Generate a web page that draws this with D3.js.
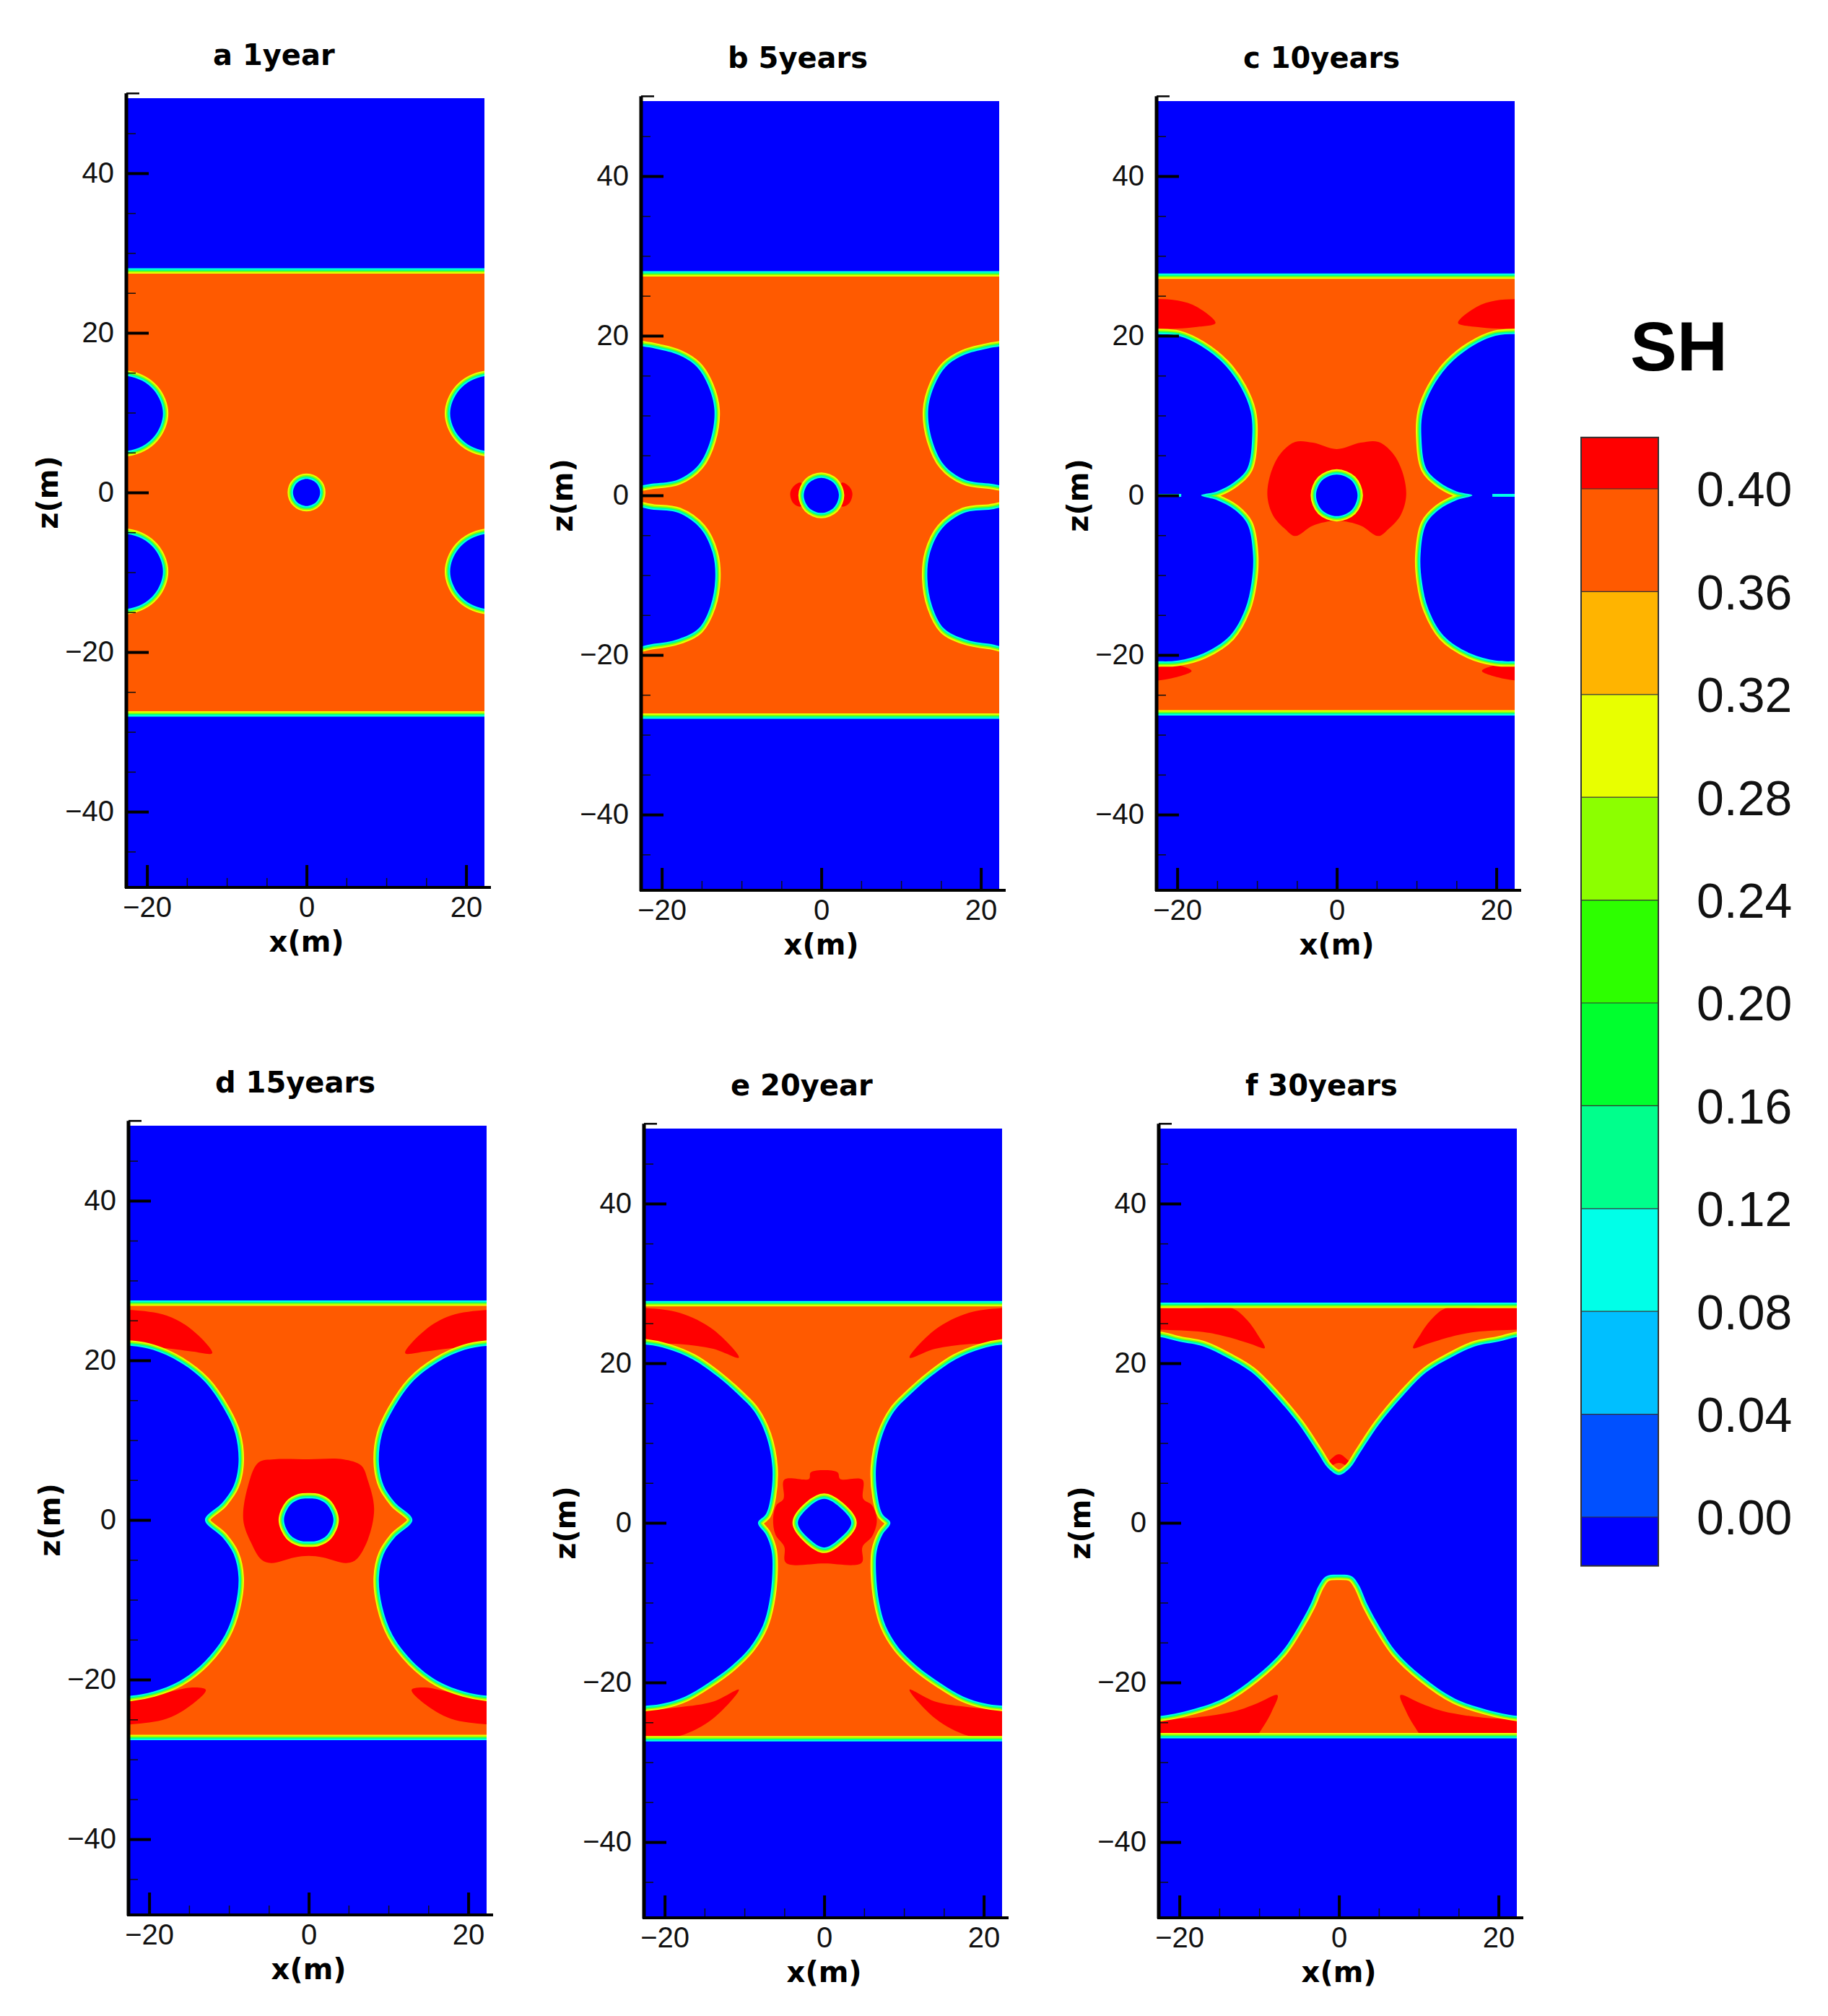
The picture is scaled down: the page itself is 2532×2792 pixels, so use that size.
<!DOCTYPE html>
<html>
<head>
<meta charset="utf-8">
<style>
  body { margin: 0; background: #fff; }
  .tick text { font-family: "Liberation Sans", Arial, sans-serif; font-size: 40px; fill: #111; }
</style>
</head>
<body>
<svg id="fig" width="2532" height="2792"></svg>

<script src="https://d3js.org/d3.v7.min.js"></script>
<script>

    // ---- data (x, z in metres) ----
    const panelTitles = ["a 1year", "b 5years", "c 10years", "d 15years", "e 20year", "f 30years"]
    const xTicks = [-20, 0, 20]
    const zTicks = [-40, -20, 0, 20, 40]
    const minorTicks = [-45, -35, -30, -25, -15, -10, -5, 5, 10, 15, 25, 30, 35, 45]
    const xMinor = [-15, -10, -5, 5, 10, 15]

    const legendLevels = [0.00, 0.04, 0.08, 0.12, 0.16, 0.20, 0.24, 0.28, 0.32, 0.36, 0.40]
    const legendColors = ["#0000ff", "#0050ff", "#00bfff", "#00ffe8", "#00ff8c", "#00ff2e",
                          "#2dff00", "#8cff00", "#e8ff00", "#ffb400", "#ff5a00", "#ff0000"]
    const legendEnds = [-0.019, 0.42]

    // top / bottom edge of the hydrate layer
    const bandTop = [28.1, 28.1, 27.8, 27.5, 27.8, 27.6]
    const bandBottom = [-28.1, -28.0, -27.6, -27.6, -27.4, -27.0]

    // dissociated zones (SH ~ 0) at the left wells, mirrored to the right wells
    const blueSide = [
        [
            [[-25,14.6],[-22.5,14.6],[-20.6,14.0],[-19.2,12.9],[-18.3,11.4],[-18.0,9.9],[-18.3,8.4],[-19.2,6.9],[-20.6,5.8],[-22.5,5.2],[-25,5.2]],
            [[-25,-5.2],[-22.5,-5.2],[-20.6,-5.8],[-19.2,-6.9],[-18.3,-8.4],[-18.0,-9.9],[-18.3,-11.4],[-19.2,-12.9],[-20.6,-14.0],[-22.5,-14.6],[-25,-14.6]]
        ],
        [
            [[-25,18.6],[-22.0,18.6],[-20.4,18.3],[-17.9,17.6],[-15.7,16.2],[-14.2,13.8],[-13.4,10.7],[-13.9,6.9],[-15.4,3.8],[-17.9,2.0],[-21,1.5],[-25,1.5]],
            [[-25,-1.7],[-21,-1.8],[-17.9,-2.2],[-15.1,-4.2],[-13.6,-7.3],[-13.3,-10.5],[-13.9,-13.9],[-15.4,-16.7],[-17.9,-18.0],[-21,-18.6],[-25,-18.8]]
        ],
        [
            [[-25,20.2],[-22.5,20.2],[-19.9,20.0],[-17.0,18.7],[-14.1,16.4],[-12.0,13.5],[-10.8,10.5],[-10.6,7.5],[-11.2,3.4],[-12.8,1.7],[-15.0,0.5],[-17.0,0],
             [-15.0,-0.6],[-12.8,-1.8],[-11.2,-3.6],[-10.5,-7.5],[-10.7,-11.0],[-11.5,-14.3],[-13.4,-17.6],[-16.7,-19.8],[-19.9,-20.7],[-22.5,-20.8],[-25,-20.8]]
        ],
        [
            [[-25,21.8],[-22.2,21.8],[-19.5,21.3],[-16.2,19.8],[-13.0,17.3],[-10.5,13.7],[-9.2,10.8],[-8.8,7.2],[-9.4,4.3],[-10.8,2.2],[-13.0,0],
             [-10.8,-2.2],[-9.4,-4.3],[-8.8,-7.2],[-9.2,-10.8],[-10.5,-14.4],[-13.0,-17.7],[-16.2,-20.2],[-19.5,-21.5],[-22.2,-22.0],[-25,-22.0]]
        ],
        [
            [[-25,22.3],[-22.1,22.3],[-19.7,21.8],[-16.5,20.5],[-13.2,18.2],[-10.6,15.9],[-8.8,14.0],[-7.3,11.0],[-6.5,7.0],[-6.7,3.3],[-7.3,1.1],[-8.3,0],
             [-7.3,-1.5],[-6.6,-3.5],[-6.5,-6.3],[-6.9,-10.0],[-7.7,-12.9],[-9.3,-15.6],[-11.7,-18.0],[-14.6,-20.1],[-17.5,-21.8],[-20,-22.6],[-22.1,-22.9],[-25,-22.9]]
        ],
        []
    ]

    // dissociated zones round the central well
    const blueMiddle = [
        [[[0,1.7],[1.2,1.2],[1.7,0],[1.2,-1.2],[0,-1.7],[-1.2,-1.2],[-1.7,0],[-1.2,1.2]]],
        [[[0,2.2],[1.55,1.55],[2.2,0],[1.55,-1.55],[0,-2.2],[-1.55,-1.55],[-2.2,0],[-1.55,1.55]]],
        [[[0,2.6],[1.85,1.85],[2.6,0],[1.85,-1.85],[0,-2.6],[-1.85,-1.85],[-2.6,0],[-1.85,1.85]]],
        [[[-3.1,0],[-2.3,1.9],[-1.1,2.6],[0,2.7],[1.1,2.6],[2.3,1.9],[3.1,0],[2.3,-1.9],[1.1,-2.6],[0,-2.7],[-1.1,-2.6],[-2.3,-1.9]]],
        [[[-3.3,0],[-1.9,2.0],[0,3.0],[1.9,2.0],[3.4,0],[1.9,-2.0],[0,-3.1],[-1.9,-2.0]]],
        [[[-25,23.3],[-22.5,23.3],[-20,22.7],[-17,22.1],[-14,20.7],[-11,18.9],[-8,15.9],[-5,12.3],[-2.6,8.7],[-1.4,6.9],[0,6.0],
          [1.4,6.9],[2.6,8.7],[5,12.3],[8,15.9],[11,18.9],[14,20.7],[17,22.1],[20,22.7],[22.5,23.3],[25,23.3],
          [25,-24.2],[22.5,-24.2],[18.5,-23.4],[14.5,-22.0],[10.5,-19.3],[7.2,-16.2],[5.2,-13.2],[3.6,-10.3],[2.5,-7.8],[1.6,-6.7],[0,-6.5],
          [-1.6,-6.7],[-2.5,-7.8],[-3.6,-10.3],[-5.2,-13.2],[-7.2,-16.2],[-10.5,-19.3],[-14.5,-22.0],[-18.5,-23.4],[-22.5,-24.2],[-25,-24.2]]]
    ]

    // SH > 0.40 zones near the left wells, mirrored to the right
    const redSide = [
        [],
        [[[-3.9,0.2],[-3.5,1.1],[-2.6,1.6],[-2.0,0],[-2.6,-1.4],[-3.5,-1.0]]],
        [
            [[-25,24.6],[-22.5,24.6],[-19.9,24.4],[-17.5,23.6],[-15.2,21.6],[-17.5,21.1],[-20,20.9],[-22.5,20.9],[-25,20.9]],
            [[-25,-21.0],[-22.5,-21.0],[-20.2,-21.2],[-18.2,-22.0],[-20.2,-22.8],[-22.5,-23.2],[-25,-23.2]]
        ],
        [
            [[-25,26.3],[-22.2,26.3],[-17.8,25.6],[-14.6,23.8],[-12.1,20.9],[-14.6,21.1],[-17.8,21.5],[-22.2,21.8],[-25,21.8]],
            [[-25,-22.0],[-22.2,-22.0],[-17.8,-21.6],[-14.6,-21.0],[-12.9,-21.3],[-14.6,-23.1],[-17.8,-24.9],[-22.2,-25.6],[-25,-25.6]]
        ],
        [
            [[-25,26.9],[-22.1,26.9],[-18.1,26.3],[-13.9,24.2],[-10.7,20.7],[-13.9,21.8],[-18.1,22.4],[-22.1,22.4],[-25,22.4]],
            [[-25,-23.4],[-22.1,-23.4],[-18.1,-23.1],[-13.9,-22.4],[-10.7,-20.9],[-13.9,-24.5],[-18.1,-26.7],[-22.1,-27.0],[-25,-27.0]]
        ],
        [
            [[-25,26.9],[-22.5,26.9],[-18,26.9],[-13.4,26.9],[-11.5,25.4],[-10.2,23.6],[-9.3,21.9],[-11.0,22.4],[-14.0,23.3],[-17.0,23.9],[-22.5,24.2],[-25,24.2]],
            [[-25,-24.6],[-22.5,-24.6],[-18,-24.4],[-13,-23.6],[-10.2,-22.6],[-7.7,-21.6],[-8.4,-23.6],[-9.4,-25.4],[-10.5,-26.7],[-15,-26.8],[-22.5,-26.8],[-25,-26.8]]
        ]
    ]

    // SH > 0.40 zones round the central well
    const redMiddle = [
        [],
        [],
        [[[-8.7,0],[-8.2,3],[-7,5.3],[-5.2,6.7],[-3,6.6],[0,5.8],[3,6.6],[5.2,6.7],[7,5.3],[8.2,3],[8.7,0],[8,-2.5],[6.5,-4.2],
          [5.2,-5.1],[3,-3.8],[0,-3.2],[-3,-3.8],[-5.2,-5.1],[-6.5,-4.2],[-8,-2.5]]],
        [[[-6.3,7.2],[-4.3,7.6],[0,7.6],[4.3,7.6],[6.6,6.8],[7.4,5.0],[8.2,1.4],[7.4,-2.5],[5.9,-5.0],[4.7,-5.4],[1.8,-4.7],[0,-4.5],
          [-1.8,-4.7],[-4.7,-5.4],[-5.9,-5.0],[-7.2,-2.9],[-8.2,0],[-7.6,4.3]]],
        [[[-5.0,5.4],[-1.9,5.5],[-1.7,6.3],[0,6.6],[1.7,6.3],[2.0,5.5],[4.8,5.4],[4.9,3.0],[6.0,2.2],[6.6,0.3],[6.0,-1.7],[4.8,-3.0],
          [4.7,-5.0],[0,-5.1],[-4.8,-5.0],[-5.0,-3.0],[-6.1,-1.5],[-6.4,0.5],[-6.0,2.2],[-5.1,3.0]]],
        [[[-2.3,6.4],[-1.2,7.8],[0,8.6],[1.2,7.8],[2.5,6.4],[1.2,7.0],[0,7.5],[-1.2,7.0]]]
    ]

    // thin seams where two dissociation fronts touch (left side, mirrored)
    const seams = [[], [], [[[-22.6,0],[-19.5,0]]], [], [], []]

    // ---- layout ----
    const svg = d3.select("#fig")
    const W = 495, H = 1092
    const panelLeft = [176, 889, 1603, 179, 893, 1606]
    const panelTop = [136, 140, 140, 1559, 1563, 1563]

    const orange = legendColors[10], red = legendColors[11], blue = legendColors[0]
    const rings = [[15, legendColors[8]], [11, legendColors[7]], [7.5, legendColors[4]], [4, legendColors[3]]]

    let x = d3.scaleLinear().domain([-22.5, 22.3]).range([0, W])
    let z = d3.scaleLinear().domain([-49.4, 49.4]).range([H, 0])

    let smooth = d3.line().x(d => x(d[0])).y(d => z(d[1])).curve(d3.curveCatmullRomClosed.alpha(0.5))
    let straight = d3.line().x(d => x(d[0])).y(d => z(d[1])).curve(d3.curveLinearClosed)
    let open = d3.line().x(d => x(d[0])).y(d => z(d[1]))
    let mirror = p => p.map(d => [-d[0], d[1]])

    panelTitles.forEach((title, i) => {
        let g = svg.append("g").attr("transform", `translate(${panelLeft[i]},${panelTop[i]})`)

        g.append("clipPath").attr("id", "clip" + i)
            .append("rect").attr("width", W).attr("height", H)
        let plot = g.append("g").attr("clip-path", `url(#clip${i})`)

        plot.append("rect").attr("width", W).attr("height", H).attr("fill", orange)

        let reds = redSide[i].flatMap(p => [p, mirror(p)]).concat(redMiddle[i])
        plot.selectAll(null).data(reds).join("path")
            .attr("d", smooth).attr("fill", red)

        let outer = [
            [[-25, bandTop[i]], [25, bandTop[i]], [25, 52], [-25, 52]],
            [[-25, bandBottom[i]], [25, bandBottom[i]], [25, -52], [-25, -52]]
        ]
        let blues = blueSide[i].flatMap(p => [p, mirror(p)]).concat(blueMiddle[i])

        // colour transition round every dissociated zone
        rings.forEach(([w, c]) => {
            plot.selectAll(null).data(outer).join("path")
                .attr("d", straight).attr("fill", "none")
                .attr("stroke", c).attr("stroke-width", w)
            plot.selectAll(null).data(blues).join("path")
                .attr("d", smooth).attr("fill", "none")
                .attr("stroke", c).attr("stroke-width", w).attr("stroke-linejoin", "round")
        })
        plot.selectAll(null).data(outer).join("path").attr("d", straight).attr("fill", blue)
        plot.selectAll(null).data(blues).join("path").attr("d", smooth).attr("fill", blue)

        let seamLines = seams[i].flatMap(p => [p, mirror(p)])
        plot.selectAll(null).data(seamLines).join("path")
            .attr("d", open).attr("fill", "none")
            .attr("stroke", legendColors[3]).attr("stroke-width", 4)

        // axes
        let yAxis = g.append("g").call(d3.axisLeft(z).tickValues(zTicks).tickSize(-30).tickPadding(18).tickSizeOuter(0))
        yAxis.select(".domain").remove()
        yAxis.selectAll(".tick line").attr("stroke", "#000").attr("stroke-width", 4)

        let yMinor = g.append("g").call(d3.axisLeft(z).tickValues(minorTicks).tickSize(-12).tickFormat(""))
        yMinor.select(".domain").remove()
        yMinor.selectAll(".tick line").attr("stroke", "#111").attr("stroke-width", 1.5)

        let xAxis = g.append("g").attr("transform", `translate(0,${H})`)
            .call(d3.axisBottom(x).tickValues(xTicks).tickSize(-30).tickPadding(14).tickSizeOuter(0))
        xAxis.select(".domain").remove()
        xAxis.selectAll(".tick line").attr("stroke", "#000").attr("stroke-width", 4)

        let xMin = g.append("g").attr("transform", `translate(0,${H})`)
            .call(d3.axisBottom(x).tickValues(xMinor).tickSize(-12).tickFormat(""))
        xMin.select(".domain").remove()
        xMin.selectAll(".tick line").attr("stroke", "#111").attr("stroke-width", 1.5)

        g.append("line").attr("x1", -1).attr("x2", -1).attr("y1", z(50)).attr("y2", H + 2)
            .attr("stroke", "#000").attr("stroke-width", 5)
        g.append("line").attr("x1", -1).attr("x2", 17).attr("y1", z(50)).attr("y2", z(50))
            .attr("stroke", "#000").attr("stroke-width", 2.5)
        g.append("line").attr("x1", -3).attr("x2", W + 9).attr("y1", H + 1).attr("y2", H + 1)
            .attr("stroke", "#000").attr("stroke-width", 4)

        g.append("text").attr("x", 119).attr("y", -46)
            .attr("font-family", "DejaVu Sans").attr("font-weight", "bold").attr("font-size", 40)
            .text(title)
        g.append("text").attr("x", x(0)).attr("y", H + 90).attr("text-anchor", "middle")
            .attr("font-family", "DejaVu Sans").attr("font-weight", "bold").attr("font-size", 40)
            .text("x(m)")
        g.append("text").attr("transform", `translate(-96,${z(0)}) rotate(-90)`).attr("text-anchor", "middle")
            .attr("font-family", "DejaVu Sans").attr("font-weight", "bold").attr("font-size", 40)
            .text("z(m)")
    })

    // ---- colour bar ----
    let cy = d3.scaleLinear().domain([0, 0.40]).range([2101, 677])
    let barX = 2190, barW = 107
    let edges = [legendEnds[0]].concat(legendLevels, [legendEnds[1]])
    let bands = legendColors.map((c, k) => ({ lo: edges[k], hi: edges[k + 1], c: c }))

    let bar = svg.append("g")
    bar.selectAll("rect").data(bands).join("rect")
        .attr("x", barX).attr("width", barW)
        .attr("y", d => cy(d.hi)).attr("height", d => cy(d.lo) - cy(d.hi))
        .attr("fill", d => d.c)
    bar.selectAll("line").data(legendLevels).join("line")
        .attr("x1", barX).attr("x2", barX + barW)
        .attr("y1", d => cy(d)).attr("y2", d => cy(d))
        .attr("stroke", "#333").attr("stroke-width", 1.2)
    bar.append("rect").attr("x", barX).attr("width", barW)
        .attr("y", cy(legendEnds[1])).attr("height", cy(legendEnds[0]) - cy(legendEnds[1]))
        .attr("fill", "none").attr("stroke", "#333").attr("stroke-width", 2)
    bar.selectAll("text").data(legendLevels).join("text")
        .attr("x", 2350).attr("y", d => cy(d)).attr("dy", "0.36em")
        .attr("font-family", "Liberation Sans, Arial, sans-serif").attr("font-size", 68).attr("fill", "#111")
        .text(d => d3.format(".2f")(d))

    svg.append("text").attr("x", 2258).attr("y", 513)
        .attr("font-family", "Liberation Sans, Arial, sans-serif").attr("font-weight", "bold").attr("font-size", 97)
        .text("SH")

</script>
</body>
</html>
